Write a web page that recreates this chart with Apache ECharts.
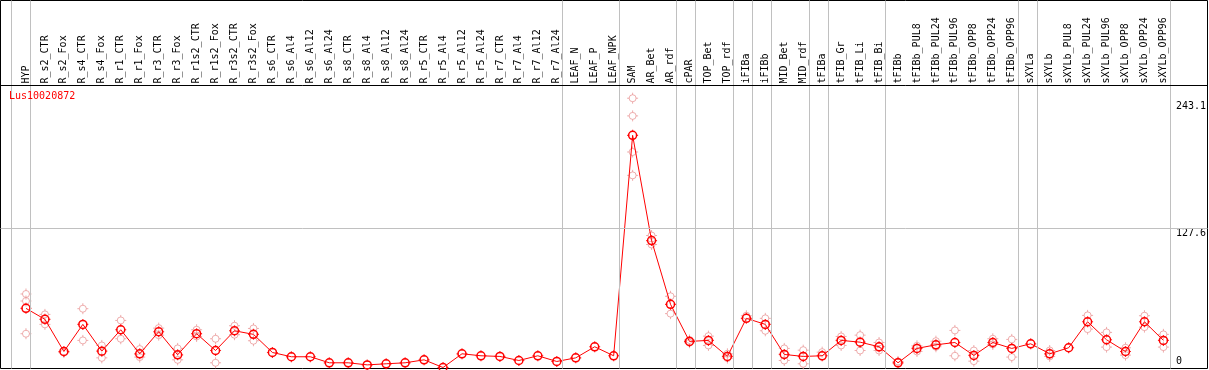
<!DOCTYPE html>
<html>
<head>
<meta charset="utf-8">
<script src="https://cdn.jsdelivr.net/npm/echarts@6/dist/echarts.min.js"></script>
<style>html,body{margin:0;padding:0;background:#fff}#c{width:1209px;height:370px}</style>
</head>
<body>
<div id="c"></div>
<script>
var categories = ['HYP','R_s2_CTR','R_s2_Fox','R_s4_CTR','R_s4_Fox','R_r1_CTR','R_r1_Fox','R_r3_CTR','R_r3_Fox','R_r1s2_CTR','R_r1s2_Fox','R_r3s2_CTR','R_r3s2_Fox','R_s6_CTR','R_s6_Al4','R_s6_Al12','R_s6_Al24','R_s8_CTR','R_s8_Al4','R_s8_Al12','R_s8_Al24','R_r5_CTR','R_r5_Al4','R_r5_Al12','R_r5_Al24','R_r7_CTR','R_r7_Al4','R_r7_Al12','R_r7_Al24','LEAF_N','LEAF_P','LEAF_NPK','SAM','AR_Bet','AR_rdf','cPAR','TOP_Bet','TOP_rdf','iFIBa','iFIBb','MID_Bet','MID_rdf','tFIBa','tFIB_Gr','tFIB_Li','tFIB_Bi','tFIBb','tFIBb_PUL8','tFIBb_PUL24','tFIBb_PUL96','tFIBb_OPP8','tFIBb_OPP24','tFIBb_OPP96','sXYLa','sXYLb','sXYLb_PUL8','sXYLb_PUL24','sXYLb_PUL96','sXYLb_OPP8','sXYLb_OPP24','sXYLb_OPP96'];

var meanValues = [54.8,44.8,15.5,40.2,15.8,35.3,13.4,33.5,12.5,31.7,16.4,34.4,31.1,14.6,10.7,10.7,5.2,5.2,3.3,4.3,5.2,7.9,0.9,13.4,11.6,11.0,7.3,11.6,6.4,9.7,19.8,11.6,212.5,116.6,58.5,24.7,25.6,11.0,45.7,40.2,12.8,11.0,11.6,25.6,24.0,19.8,5.2,18.3,21.6,23.7,11.9,23.7,18.3,22.5,13.4,18.9,42.6,26.2,15.5,42.6,25.6];

var replicateValues = [
  [67.9,61.5,31.7],[49.3,40.2],[14.5],[54.5,25.6],[21.0,9.7],[43.8,27.1],[17.7,10.4],[36.8,30.4],[18.3,7.9],[35.3,29.2],
  [27.1,5.2],[39.0,30.8],[36.5,25.3],[],[],[],[],[],[],[],
  [],[],[],[],[],[],[],[],[],[],
  [],[],[246.3,230.2,197.3,176.0],[121.2,113.0],[65.8,50.0],[26.0,23.5],[29.5,21.0],[13.4,9.5],[48.1],[45.7,34.4],
  [18.3,7.3],[16.7,4.3],[14.9],[29.2,21.0],[30.4,16.4],[23.7,16.4],[6.4],[20.7,15.5],[24.9,19.8],[34.7,11.6],
  [16.4,6.7],[27.1,21.9],[26.5,10.4],[],[16.4,11.0],[],[48.4,35.9],[32.9,19.5],[18.9,12.2],[48.1,37.7],
  [31.1,19.5]
];

var groupEnds = [-1,0,28,31,34,35,37,38,39,41,42,45,52,53,60];
var tickTop = [127.6, 243.1];
var tickBottom = [0];
var geneName = 'Lus10020872';

var FONT = 'DejaVu Sans Mono';
var BAND = 19;
var N = categories.length;
var PLOT_TOP = 85.5, PLOT_H = 283, FRAME_W = 1207, FRAME_H = 368;
var FIRST_CENTER = 26;
var YMAX = 257.9;
var FRAME_YMAX = YMAX * FRAME_H / PLOT_H;
var gridLeft = FIRST_CENTER - BAND / 2;
var xMinF = -(FIRST_CENTER - 0.5) / BAND;
var xMaxF = xMinF + FRAME_W / BAND;
var sepOffset = 4.5 / BAND;

var tickPath = 'path://M10,0L10,4M10,16L10,20M0,10L4,10M16,10L20,10';
var RED = '#ff0000', PINK = '#ea9a9a';

var repData = [];
replicateValues.forEach(function (arr, i) { arr.forEach(function (v) { repData.push([i, v]); }); });
var meanData = meanValues.map(function (v, i) { return [i, v]; });

var markData = groupEnds.map(function (g) { return { xAxis: g + sepOffset }; });
markData.push({ yAxis: tickTop[0] });
markData.push({ yAxis: YMAX, lineStyle: { color: '#000' } });

function tickLayer(data, color, width, z) {
  return { type: 'scatter', xAxisIndex: 1, yAxisIndex: 1, data: data, symbol: tickPath, symbolSize: 11, z: z, silent: true,
    itemStyle: { color: 'rgba(0,0,0,0)', borderColor: color, borderWidth: width } };
}

var chart = echarts.init(document.getElementById('c'), null, { renderer: 'canvas' });
chart.setOption({
  animation: false,
  title: { text: geneName, left: 9, top: 91, padding: 0,
    textStyle: { color: RED, fontSize: 10, fontWeight: 'normal', fontFamily: FONT } },
  grid: [
    { left: 0.5, top: 0.5, width: FRAME_W, height: FRAME_H, show: true, borderColor: '#000', borderWidth: 1, backgroundColor: 'transparent' },
    { left: gridLeft, top: PLOT_TOP, width: BAND * N, height: PLOT_H }
  ],
  xAxis: [
    { type: 'value', gridIndex: 0, min: xMinF, max: xMaxF, show: false },
    { type: 'category', gridIndex: 1, data: categories, position: 'top', boundaryGap: true,
      axisLine: { show: false }, axisTick: { show: false }, splitLine: { show: false },
      axisLabel: { interval: 0, rotate: 90, margin: 2, fontSize: 10, fontFamily: FONT, color: '#000' } }
  ],
  yAxis: [
    { type: 'value', gridIndex: 0, min: 0, max: FRAME_YMAX, show: false },
    { type: 'value', gridIndex: 1, min: 0, max: YMAX, position: 'right',
      axisLine: { show: false }, axisTick: { show: false }, splitLine: { show: false },
      axisLabel: { customValues: tickTop, verticalAlign: 'top', margin: 3, fontSize: 10, fontFamily: FONT, color: '#000',
        formatter: function (v) { return String(v); } } },
    { type: 'value', gridIndex: 1, min: 0, max: YMAX, position: 'right',
      axisLine: { show: false }, axisTick: { show: false }, splitLine: { show: false },
      axisLabel: { customValues: tickBottom, verticalAlign: 'bottom', margin: 3, fontSize: 10, fontFamily: FONT, color: '#000', padding: [0,0,2,0],
        formatter: function (v) { return String(v); } } }
  ],
  series: [
    { type: 'line', xAxisIndex: 0, yAxisIndex: 0, data: [], silent: true, z: 1,
      markLine: { silent: true, symbol: ['none', 'none'], label: { show: false }, animation: false,
        lineStyle: { color: '#c0c0c0', type: 'solid', width: 1 }, emphasis: { disabled: true }, data: markData } },
    { type: 'scatter', xAxisIndex: 1, yAxisIndex: 1, data: repData, symbol: 'circle', symbolSize: 7, z: 2,
      itemStyle: { color: 'rgba(0,0,0,0)', borderColor: PINK, borderWidth: 1 } },
    tickLayer(repData, PINK, 1, 2),
    { type: 'line', xAxisIndex: 1, yAxisIndex: 1, data: meanData, symbol: 'circle', symbolSize: 8, z: 3,
      showAllSymbol: true,
      lineStyle: { color: RED, width: 1 },
      itemStyle: { color: 'rgba(0,0,0,0)', borderColor: RED, borderWidth: 1.5 } },
    tickLayer(meanData, RED, 1.2, 4)
  ]
});
</script>
</body>
</html>
